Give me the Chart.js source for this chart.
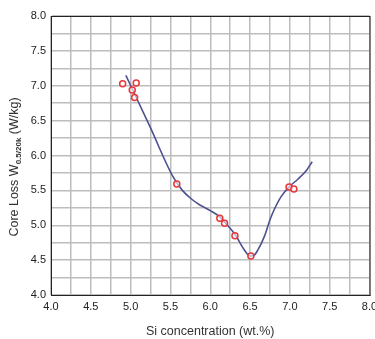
<!DOCTYPE html>
<html>
<head>
<meta charset="utf-8">
<script src="https://cdn.jsdelivr.net/npm/chart.js@4/dist/chart.umd.min.js"></script>
<style>
  html, body { margin: 0; padding: 0; background: #fff; }
  #wrap { width: 375px; height: 339px; }
</style>
</head>
<body>
<div id="wrap"><canvas id="chart"></canvas></div>
<script>
// --- Data ---
const siMeasured = [4.90, 5.02, 5.05, 5.07, 5.58, 6.12, 6.18, 6.31, 6.51, 6.99, 7.05];
const lossMeasured = [7.03, 6.94, 6.83, 7.04, 5.59, 5.10, 5.03, 4.85, 4.56, 5.55, 5.52];

const siFit = [4.94, 5.24, 5.53, 5.65, 5.76, 5.87, 6.00, 6.12, 6.20, 6.31, 6.42, 6.50, 6.55, 6.60, 6.68, 6.75, 6.81, 6.89, 6.99, 7.10, 7.21, 7.28];
const lossFit = [7.15, 6.42, 5.70, 5.50, 5.38, 5.29, 5.21, 5.12, 5.02, 4.87, 4.66, 4.56, 4.57, 4.65, 4.84, 5.08, 5.24, 5.41, 5.55, 5.66, 5.79, 5.91];

const xRange = [4.0, 8.0];
const yRange = [4.0, 8.0];

const toPoints = (xs, ys) => xs.map((x, i) => ({ x: x, y: ys[i] }));

// label only every 0.5, grid every 0.25
function majorLabel(value) {
    const v = Math.round(value * 100) / 100;
    return Math.abs(v * 2 - Math.round(v * 2)) < 1e-6 ? v.toFixed(1) : '';
}

// frame round the plot area + y title with subscript
const framePlugin = {
    id: 'frame',
    afterDraw(chart) {
        const { ctx, chartArea: a } = chart;
        ctx.save();
        ctx.strokeStyle = '#222';
        ctx.lineWidth = 1;
        ctx.strokeRect(a.left + 0.5, a.top + 0.5, a.width, a.height);

        // y title
        ctx.translate(15, 167);
        ctx.rotate(-Math.PI / 2);
        ctx.fillStyle = '#333';
        ctx.textBaseline = 'middle';
        const parts = [
            { t: 'Core Loss W', f: '12.5px "Liberation Sans", Arial, sans-serif', dy: 0 },
            { t: '0.5/20k', f: 'bold 8px "Liberation Sans", Arial, sans-serif', dy: 4 },
            { t: ' (W/kg)', f: '12.5px "Liberation Sans", Arial, sans-serif', dy: 0 }
        ];
        let total = 0;
        parts.forEach(p => { ctx.font = p.f; total += ctx.measureText(p.t).width; });
        let x = -total / 2;
        parts.forEach(p => {
            ctx.font = p.f;
            ctx.fillText(p.t, x, p.dy);
            x += ctx.measureText(p.t).width;
        });
        ctx.restore();
    }
};

const tickFont = { family: '"Liberation Sans", Arial, sans-serif', size: 11 };

new Chart(document.getElementById('chart'), {
    type: 'scatter',
    data: {
        datasets: [
            {
                type: 'line',
                data: toPoints(siFit, lossFit),
                borderColor: '#4d5190',
                borderWidth: 1.6,
                pointRadius: 0,
                fill: false,
                cubicInterpolationMode: 'monotone',
                order: 2
            },
            {
                data: toPoints(siMeasured, lossMeasured),
                pointStyle: 'circle',
                pointRadius: 3,
                pointBorderWidth: 1.5,
                borderColor: '#e8363a',
                backgroundColor: 'rgba(255,255,255,0.6)',
                order: 1
            }
        ]
    },
    options: {
        responsive: true,
        maintainAspectRatio: false,
        animation: false,
        layout: { padding: { left: 0, top: 16, right: 5, bottom: 0 } },
        plugins: {
            legend: { display: false },
            tooltip: { enabled: false }
        },
        scales: {
            x: {
                type: 'linear',
                min: xRange[0],
                max: xRange[1],
                afterFit(scale) {
                    scale.height = 44;
                    scale.paddingRight = 0;
                    scale.paddingLeft = 0;
                },
                ticks: {
                    stepSize: 0.25,
                    autoSkip: false,
                    maxRotation: 0,
                    padding: 5,
                    color: '#222',
                    font: tickFont,
                    callback: majorLabel
                },
                grid: { color: '#bdbdbd', lineWidth: 1.5, drawTicks: false },
                border: { display: true, color: '#222', width: 1 },
                title: {
                    display: true,
                    text: 'Si concentration (wt.%)',
                    color: '#333',
                    font: { family: '"Liberation Sans", Arial, sans-serif', size: 12.5 },
                    padding: { top: 12, bottom: 0 }
                }
            },
            y: {
                type: 'linear',
                min: yRange[0],
                max: yRange[1],
                afterFit(scale) {
                    scale.width = 51;
                    scale.paddingTop = 0;
                    scale.paddingBottom = 0;
                },
                ticks: {
                    stepSize: 0.25,
                    autoSkip: false,
                    padding: 5,
                    color: '#222',
                    font: tickFont,
                    callback: majorLabel
                },
                grid: { color: '#bdbdbd', lineWidth: 1.5, drawTicks: false },
                border: { display: true, color: '#222', width: 1 }
            }
        }
    },
    plugins: [framePlugin]
});
</script>
</body>
</html>
